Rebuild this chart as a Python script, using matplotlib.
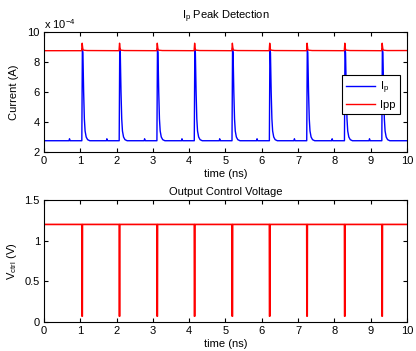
import numpy as np
import matplotlib.pyplot as plt

# pulse instants (ns)
pulse_t = [1.04, 2.07, 3.11, 4.14, 5.18, 6.21, 7.24, 8.28, 9.31]
blip_t = [0.70, 1.73, 2.77, 3.80, 4.84, 5.87, 6.90, 7.94, 8.97]

# Ip pulse shape: offset from pulse instant (ns) and current (A)
ip_off = [-0.01, 0.0, 0.015, 0.03, 0.05, 0.07, 0.09, 0.12, 0.16, 0.22]
ip_val = [2.75e-4, 2.75e-4, 8.9e-4, 8.6e-4, 6.0e-4, 4.2e-4, 3.4e-4, 3.0e-4, 2.82e-4, 2.75e-4]
blip_off = [-0.01, 0.0, 0.01, 0.02]
blip_val = [2.75e-4, 2.88e-4, 2.8e-4, 2.75e-4]
ip_base = 2.75e-4

# Ipp shape around each pulse
ipp_off = [-0.005, 0.01, 0.03, 0.06, 0.15]
ipp_val = [8.75e-4, 9.25e-4, 8.82e-4, 8.78e-4, 8.76e-4]
ipp_base = 8.75e-4

# Vctrl dip around each pulse
v_off = [0.0, 0.004, 0.014, 0.018]
v_val = [1.2, 0.07, 0.07, 1.2]
v_base = 1.2

ticks_x = [0, 1, 2, 3, 4, 5, 6, 7, 8, 9, 10]


def build(base, events):
    tt = [0.0]
    yy = [base]
    for t0, off, val in sorted(events, key=lambda e: e[0]):
        for o, v in zip(off, val):
            tt.append(t0 + o)
            yy.append(v)
    tt.append(10.0)
    yy.append(yy[-1])
    return tt, yy


ip_t, ip_y = build(ip_base, [(t, ip_off, ip_val) for t in pulse_t] +
                   [(t, blip_off, blip_val) for t in blip_t])
ipp_t, ipp_y = build(ipp_base, [(t, ipp_off, ipp_val) for t in pulse_t])
v_t, v_y = build(v_base, [(t, v_off, v_val) for t in pulse_t])

plt.rcParams['font.size'] = 8
plt.rcParams['font.family'] = 'Liberation Sans'
plt.rcParams['mathtext.default'] = 'regular'

fig = plt.figure(figsize=(4.16, 3.51), dpi=100)
ax1 = fig.add_axes([0.106, 0.567, 0.872, 0.342])
ax2 = fig.add_axes([0.106, 0.083, 0.872, 0.347])

ax1.plot(ip_t, ip_y, color='#0000ff', lw=1, label='I$_p$')
ax1.plot(ipp_t, ipp_y, color='#ff0000', lw=1, label='Ipp')
ax1.set_xlim(0, 10)
ax1.set_ylim(2e-4, 10e-4)
ax1.set_yticks([2e-4, 4e-4, 6e-4, 8e-4, 10e-4])
ax1.set_yticklabels(['2', '4', '6', '8', '10'])
ax1.text(0, 1.025, 'x 10$^{-4}$', transform=ax1.transAxes, fontsize=8)
ax1.set_xticks(ticks_x)
ax1.set_xlabel('time (ns)', labelpad=2)
ax1.set_ylabel('Current (A)', labelpad=6)
ax1.set_title('I$_p$ Peak Detection', fontsize=8, pad=9)
leg = ax1.legend(loc='center right', bbox_to_anchor=(0.98, 0.48), fancybox=False,
                 framealpha=1, edgecolor='black', fontsize=8, handlelength=2.6,
                 borderpad=0.4, labelspacing=0.35, handletextpad=0.4, borderaxespad=0)
leg.get_frame().set_linewidth(0.8)

ax2.plot(v_t, v_y, color='#ff0000', lw=1.2)
ax2.set_xlim(0, 10)
ax2.set_ylim(0, 1.5)
ax2.set_yticks([0, 0.5, 1, 1.5])
ax2.set_yticklabels(['0', '0.5', '1', '1.5'])
ax2.set_xticks(ticks_x)
ax2.set_xlabel('time (ns)', labelpad=2)
ax2.set_ylabel('V$_{ctrl}$ (V)')
ax2.set_title('Output Control Voltage', fontsize=8, pad=4)

for ax in (ax1, ax2):
    ax.tick_params(direction='in', top=True, right=True, length=3, width=0.8, pad=3)
    for s in ax.spines.values():
        s.set_linewidth(0.8)

fig.savefig('out.png', dpi=100)
